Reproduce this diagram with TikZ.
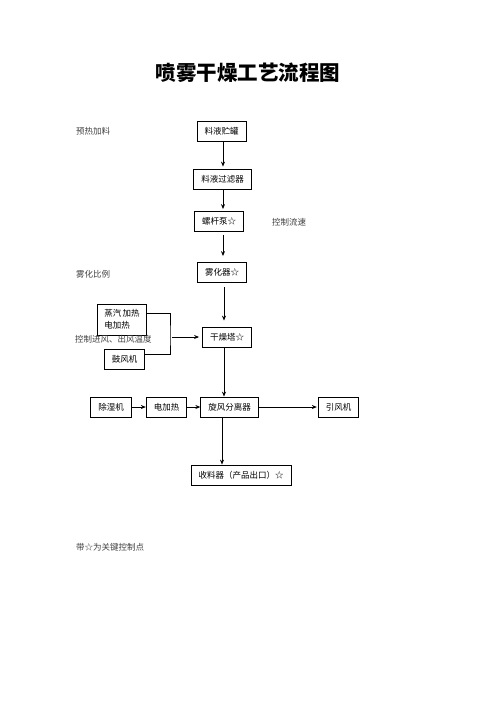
\documentclass[tikz,border=0pt]{standalone}
\usepackage{fontspec}
\setmainfont{Noto Sans CJK SC}
\usepackage{tikz}
\usetikzlibrary{arrows.meta}
\tikzset{box/.style={draw, line width=0.8pt, inner xsep=7.5pt, inner ysep=0pt, minimum height=20pt, font=\fontsize{8.5}{10}\selectfont}}
\tikzset{note/.style={anchor=west, inner sep=0pt, font=\fontsize{8.5}{10}\selectfont, text=black!75}}
\tikzset{flow/.style={-{Stealth[length=5pt, width=4pt]}, line width=0.8pt}}

\begin{document}
\begin{tikzpicture}[x=1pt, y=-1pt]
            \useasboundingbox (0, 0) rectangle (496, 702);
            \node[font=\bfseries\fontsize{20.5}{24}\selectfont] (title) at (248, 73) {喷雾干燥工艺流程图};
            \node[box] (tank) at (221.5, 131.5) {料液贮罐};
            \node[box] (filter) at (222.5, 179) {料液过滤器};
            \node[box] (pump) at (219, 221.5) {螺杆泵☆};
            \node[box] (atom) at (222, 272.5) {雾化器☆};
            \node[box] (dryer) at (227, 337) {干燥塔☆};
            \node[box] (sep) at (229.5, 407) {旋风分离器};
            \node[box] (collect) at (241, 475) {收料器（产品出口）☆};
            \node[box, align=left, minimum height=31pt, inner xsep=6.5pt, font=\fontsize{8.5}{12}\selectfont] (heat) at (122, 319.5) {蒸汽\,加热\\电加热};
            \node[box] (blower) at (124.5, 359.5) {鼓风机};
            \node[box] (dehum) at (111, 407) {除湿机};
            \node[box] (eheat) at (166.5, 407) {电加热};
            \node[box] (fan) at (338.5, 407) {引风机};
            \node[note] (n1) at (76, 131) {预热加料};
            \node[note] (n2) at (272, 222) {控制流速};
            \node[note] (n3) at (76, 274) {雾化比例};
            \node[note] (n4) at (75, 339.5) {控制进风、出风温度};
            \node[note] (n5) at (76, 547) {带☆为关键控制点};
            \coordinate (col) at (223, 0);
            \coordinate (join) at (170, 337);
            \draw[flow] (col |- tank.south) -- ([yshift=2pt]col |- filter.north);
            \draw[flow] (col |- filter.south) -- ([yshift=2pt]col |- pump.north);
            \draw[flow] ([yshift=-3pt]col |- pump.south) -- ([yshift=6pt]col |- atom.north);
            \draw[flow] ([xshift=1pt, yshift=-4pt]col |- atom.south) -- ([xshift=1pt, yshift=6pt]col |- dryer.north);
            \draw[flow] ([xshift=1pt]col |- dryer.south) -- ([xshift=1pt]col |- sep.north);
            \draw[flow] ([xshift=-1pt]col |- sep.south) -- ([xshift=-1pt]col |- collect.north);
            \draw[line width=0.6pt] ([yshift=6.5pt]heat.east) -| (join) |- ([yshift=5.5pt]blower.east);
            \draw[flow] ([xshift=2pt]join) -- ([xshift=-3pt]dryer.west);
            \draw[flow] (dehum.east) -- (eheat.west);
            \draw[flow] (eheat.east) -- (sep.west);
            \draw[flow] (sep.east) -- ([xshift=-1pt]fan.west);
        \end{tikzpicture}
\end{document}
